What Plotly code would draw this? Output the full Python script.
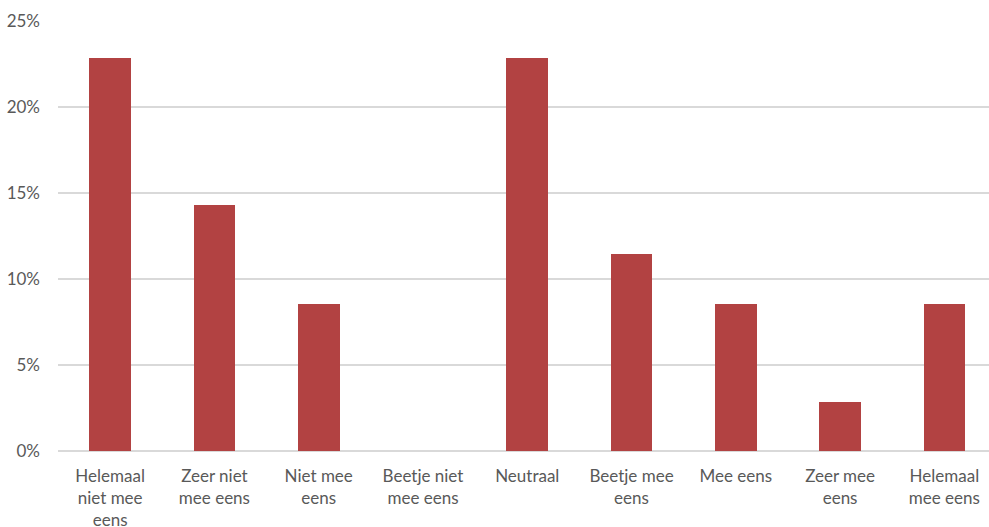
import plotly.graph_objects as go

categories = ["Helemaal<br>niet mee<br>eens", "Zeer niet<br>mee eens", "Niet mee<br>eens",
              "Beetje niet<br>mee eens", "Neutraal", "Beetje mee<br>eens", "Mee eens",
              "Zeer mee<br>eens", "Helemaal<br>mee eens"]
values = [0.2286, 0.1429, 0.0857, 0.0, 0.2286, 0.1143, 0.0857, 0.0286, 0.0857]
y_ticks = [0, 0.05, 0.10, 0.15, 0.20, 0.25]

fig = go.Figure(go.Bar(
    x=list(range(len(categories))), y=values, width=0.4,
    marker=dict(color="#B24242", line=dict(width=0)),
    hoverinfo="skip",
))

font = dict(family="Lato, Calibri, sans-serif", size=17, color="#595959")
fig.update_layout(
    width=989, height=527,
    margin=dict(l=58, r=0, t=21, b=76, pad=0),
    paper_bgcolor="white", plot_bgcolor="white",
    showlegend=False, font=font,
    bargap=0,
)
fig.update_xaxes(
    tickmode="array", tickvals=list(range(len(categories))), ticktext=categories,
    range=[-0.5, 8.5 - 7.5 / 104.3], showgrid=False, showline=False, zeroline=False,
    ticks="", ticklabelstandoff=13, tickfont=font, automargin=False,
)
fig.update_yaxes(
    range=[0, 0.25], tickvals=y_ticks, tickformat=".0%",
    showgrid=True, gridcolor="#D9D9D9", gridwidth=1.5,
    zeroline=True, zerolinecolor="#D9D9D9", zerolinewidth=1.5,
    showline=False, ticks="", ticklabelstandoff=17, tickfont=font, automargin=False,
)

fig.write_html("out.html")
